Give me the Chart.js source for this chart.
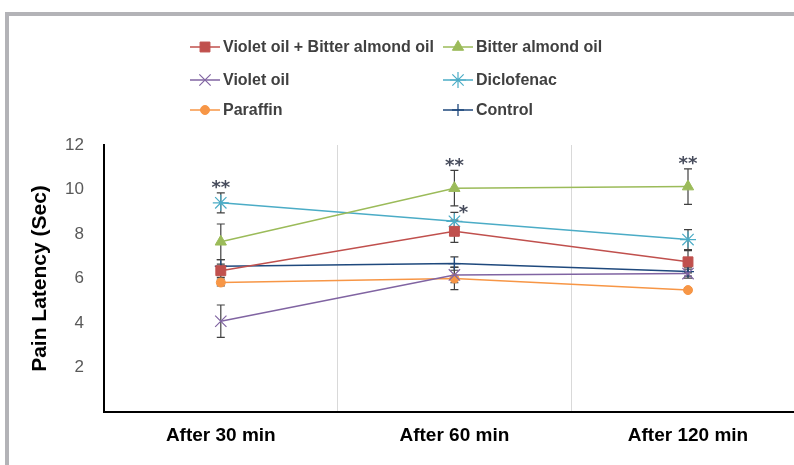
<!DOCTYPE html>
<html>
<head>
<meta charset="utf-8">
<script src="https://cdn.jsdelivr.net/npm/chart.js@4/dist/chart.umd.min.js"></script>
<style>
  html, body { margin: 0; padding: 0; background: #fff; overflow: hidden; width: 794px; height: 465px; }
  #wrap { position: absolute; left: 0; top: 0; width: 814px; height: 465px; }
  #frame { position: absolute; left: 5px; top: 12px; width: 900px; height: 600px;
           border-left: 4px solid #b3b3b7; border-top: 4px solid #b3b3b7; pointer-events: none; }
</style>
</head>
<body>
<div id="wrap"><canvas id="c"></canvas></div>
<div id="frame"></div>
<script>
// Time points after treatment
const categories = ['After 30 min', 'After 60 min', 'After 120 min'];

// Mean pain latency (sec) per group
const violetBitter = [6.35, 8.12, 6.75];
const bitterAlmond = [7.65, 10.06, 10.13];
const violetOil    = [4.08, 6.16, 6.22];
const diclofenac   = [9.40, 8.57, 7.75];
const paraffin     = [5.82, 6.00, 5.48];
const control      = [6.55, 6.67, 6.31];

// Error (± SEM) per group
const violetBitterErr = [0.30, 0.50, 0.50];
const bitterAlmondErr = [0.80, 0.80, 0.80];
const violetOilErr    = [0.73, 0.35, 0.20];
const diclofenacErr   = [0.45, 0.40, 0.45];
const paraffinErr     = [0.15, 0.50, 0.10];
const controlErr      = [0.30, 0.30, 0.20];

// Value-axis tick labels
const yTicks = [2, 4, 6, 8, 10, 12];

// Significance marks: which group / time point they sit on
const marks = [
  { group: 'Diclofenac', index: 0, text: '**' },
  { group: 'Bitter almond oil', index: 1, text: '**' },
  { group: 'Diclofenac', index: 1, text: '*', side: 'right' },
  { group: 'Bitter almond oil', index: 2, text: '**' }
];

const groups = [
  { label: 'Violet oil + Bitter almond oil', data: violetBitter, err: violetBitterErr, color: '#C0504D', style: 'rect',      r: 7,   bw: 1 },
  { label: 'Bitter almond oil',              data: bitterAlmond, err: bitterAlmondErr, color: '#9BBB59', style: 'triangle',  r: 6.5, bw: 1 },
  { label: 'Violet oil',                     data: violetOil,    err: violetOilErr,    color: '#8064A2', style: 'crossRot',  r: 8,   bw: 1.2 },
  { label: 'Diclofenac',                     data: diclofenac,   err: diclofenacErr,   color: '#4BACC6', style: 'star',      r: 8,   bw: 1.2 },
  { label: 'Paraffin',                       data: paraffin,     err: paraffinErr,     color: '#F79646', style: 'circle',    r: 4.5, bw: 1 },
  { label: 'Control',                        data: control,      err: controlErr,      color: '#1F497D', style: 'cross',     r: 6,   bw: 1.3 }
];

const FONT = "'Liberation Sans', Arial, sans-serif";

// Vertical error bars with caps, drawn under the markers
const errorBars = {
  id: 'errorBars',
  beforeDatasetsDraw(chart) {
    const { ctx } = chart;
    const y = chart.scales.y;
    ctx.save();
    ctx.strokeStyle = '#404040';
    ctx.lineWidth = 1.2;
    chart.data.datasets.forEach((ds, i) => {
      const meta = chart.getDatasetMeta(i);
      ds.data.forEach((v, j) => {
        const e = ds.err[j];
        const px = meta.data[j].x;
        const top = y.getPixelForValue(v + e);
        const bot = y.getPixelForValue(v - e);
        ctx.beginPath();
        ctx.moveTo(px, top); ctx.lineTo(px, bot);
        ctx.moveTo(px - 4, top); ctx.lineTo(px + 4, top);
        ctx.moveTo(px - 4, bot); ctx.lineTo(px + 4, bot);
        ctx.stroke();
      });
    });
    ctx.restore();
  }
};

// Asterisks above the error bars
const sigMarks = {
  id: 'sigMarks',
  afterDatasetsDraw(chart) {
    const { ctx } = chart;
    const y = chart.scales.y;
    ctx.save();
    ctx.font = "bold 18px 'DejaVu Sans', sans-serif";
    ctx.fillStyle = '#474c5c';
    ctx.textAlign = 'center';
    ctx.textBaseline = 'alphabetic';
    marks.forEach(m => {
      const i = chart.data.datasets.findIndex(d => d.label === m.group);
      const ds = chart.data.datasets[i];
      const pt = chart.getDatasetMeta(i).data[m.index];
      const top = y.getPixelForValue(ds.data[m.index] + ds.err[m.index]);
      const tm = ctx.measureText(m.text);
      const mid = (tm.actualBoundingBoxAscent - tm.actualBoundingBoxDescent) / 2;
      let cx = pt.x, cy = top - 8;
      if (m.side === 'right') { cx = pt.x + 9; cy = top - 3; }
      ctx.fillText(m.text, cx, cy + mid);
    });
    ctx.restore();
  }
};

// Two-column legend across the top
const topLegend = {
  id: 'topLegend',
  afterDraw(chart) {
    const { ctx } = chart;
    const colX = [190, 443];
    const rowY = [47, 80, 110];
    ctx.save();
    ctx.font = 'bold 16px ' + FONT;
    ctx.textBaseline = 'middle';
    ctx.textAlign = 'left';
    chart.data.datasets.forEach((ds, i) => {
      const x0 = colX[i % 2];
      const yy = rowY[Math.floor(i / 2)];
      ctx.strokeStyle = ds.borderColor;
      ctx.fillStyle = ds.borderColor;
      ctx.lineWidth = 1.5;
      ctx.beginPath();
      ctx.moveTo(x0, yy); ctx.lineTo(x0 + 30, yy);
      ctx.stroke();
      ctx.lineWidth = ds.pointBorderWidth;
      Chart.helpers.drawPoint(ctx, { pointStyle: ds.pointStyle, radius: ds.pointRadius, rotation: 0, borderWidth: ds.pointBorderWidth }, x0 + 15, yy);
      ctx.fillStyle = '#404040';
      ctx.fillText(ds.label, x0 + 33, yy + 1);
    });
    ctx.restore();
  }
};

new Chart(document.getElementById('c'), {
  type: 'line',
  data: {
    labels: categories,
    datasets: groups.map(g => ({
      label: g.label,
      data: g.data,
      err: g.err,
      borderColor: g.color,
      backgroundColor: g.color,
      pointBackgroundColor: g.color,
      pointBorderColor: g.color,
      pointStyle: g.style,
      pointRadius: g.r,
      pointBorderWidth: g.bw,
      borderWidth: 1.5,
      tension: 0,
      fill: false,
      clip: false
    }))
  },
  options: {
    responsive: true,
    maintainAspectRatio: false,
    animation: false,
    events: [],
    layout: { padding: { top: 145, right: 6, left: 0, bottom: 0 } },
    plugins: { legend: { display: false }, tooltip: { enabled: false } },
    scales: {
      x: {
        offset: true,
        grid: { display: true, offset: true, color: '#d9d9d9', lineWidth: 1, drawTicks: false },
        border: { display: true, color: '#000', width: 2 },
        ticks: { color: '#000', font: { family: FONT, size: 19, weight: 'bold' }, padding: 12, maxRotation: 0 },
        afterFit(s) { s.height = 53; }
      },
      y: {
        min: 0, max: 12,
        grid: { display: false, drawTicks: false },
        border: { display: true, color: '#000', width: 2 },
        afterBuildTicks(s) { s.ticks = yTicks.map(v => ({ value: v })); },
        ticks: { color: '#595959', font: { family: FONT, size: 17 }, padding: 20 },
        title: { display: true, text: 'Pain Latency (Sec)', color: '#000',
                 font: { family: FONT, size: 21, weight: 'bold' }, padding: { top: 28, bottom: 0 } },
        afterFit(s) { s.width = 104; }
      }
    }
  },
  plugins: [errorBars, sigMarks, topLegend]
});
</script>
</body>
</html>
